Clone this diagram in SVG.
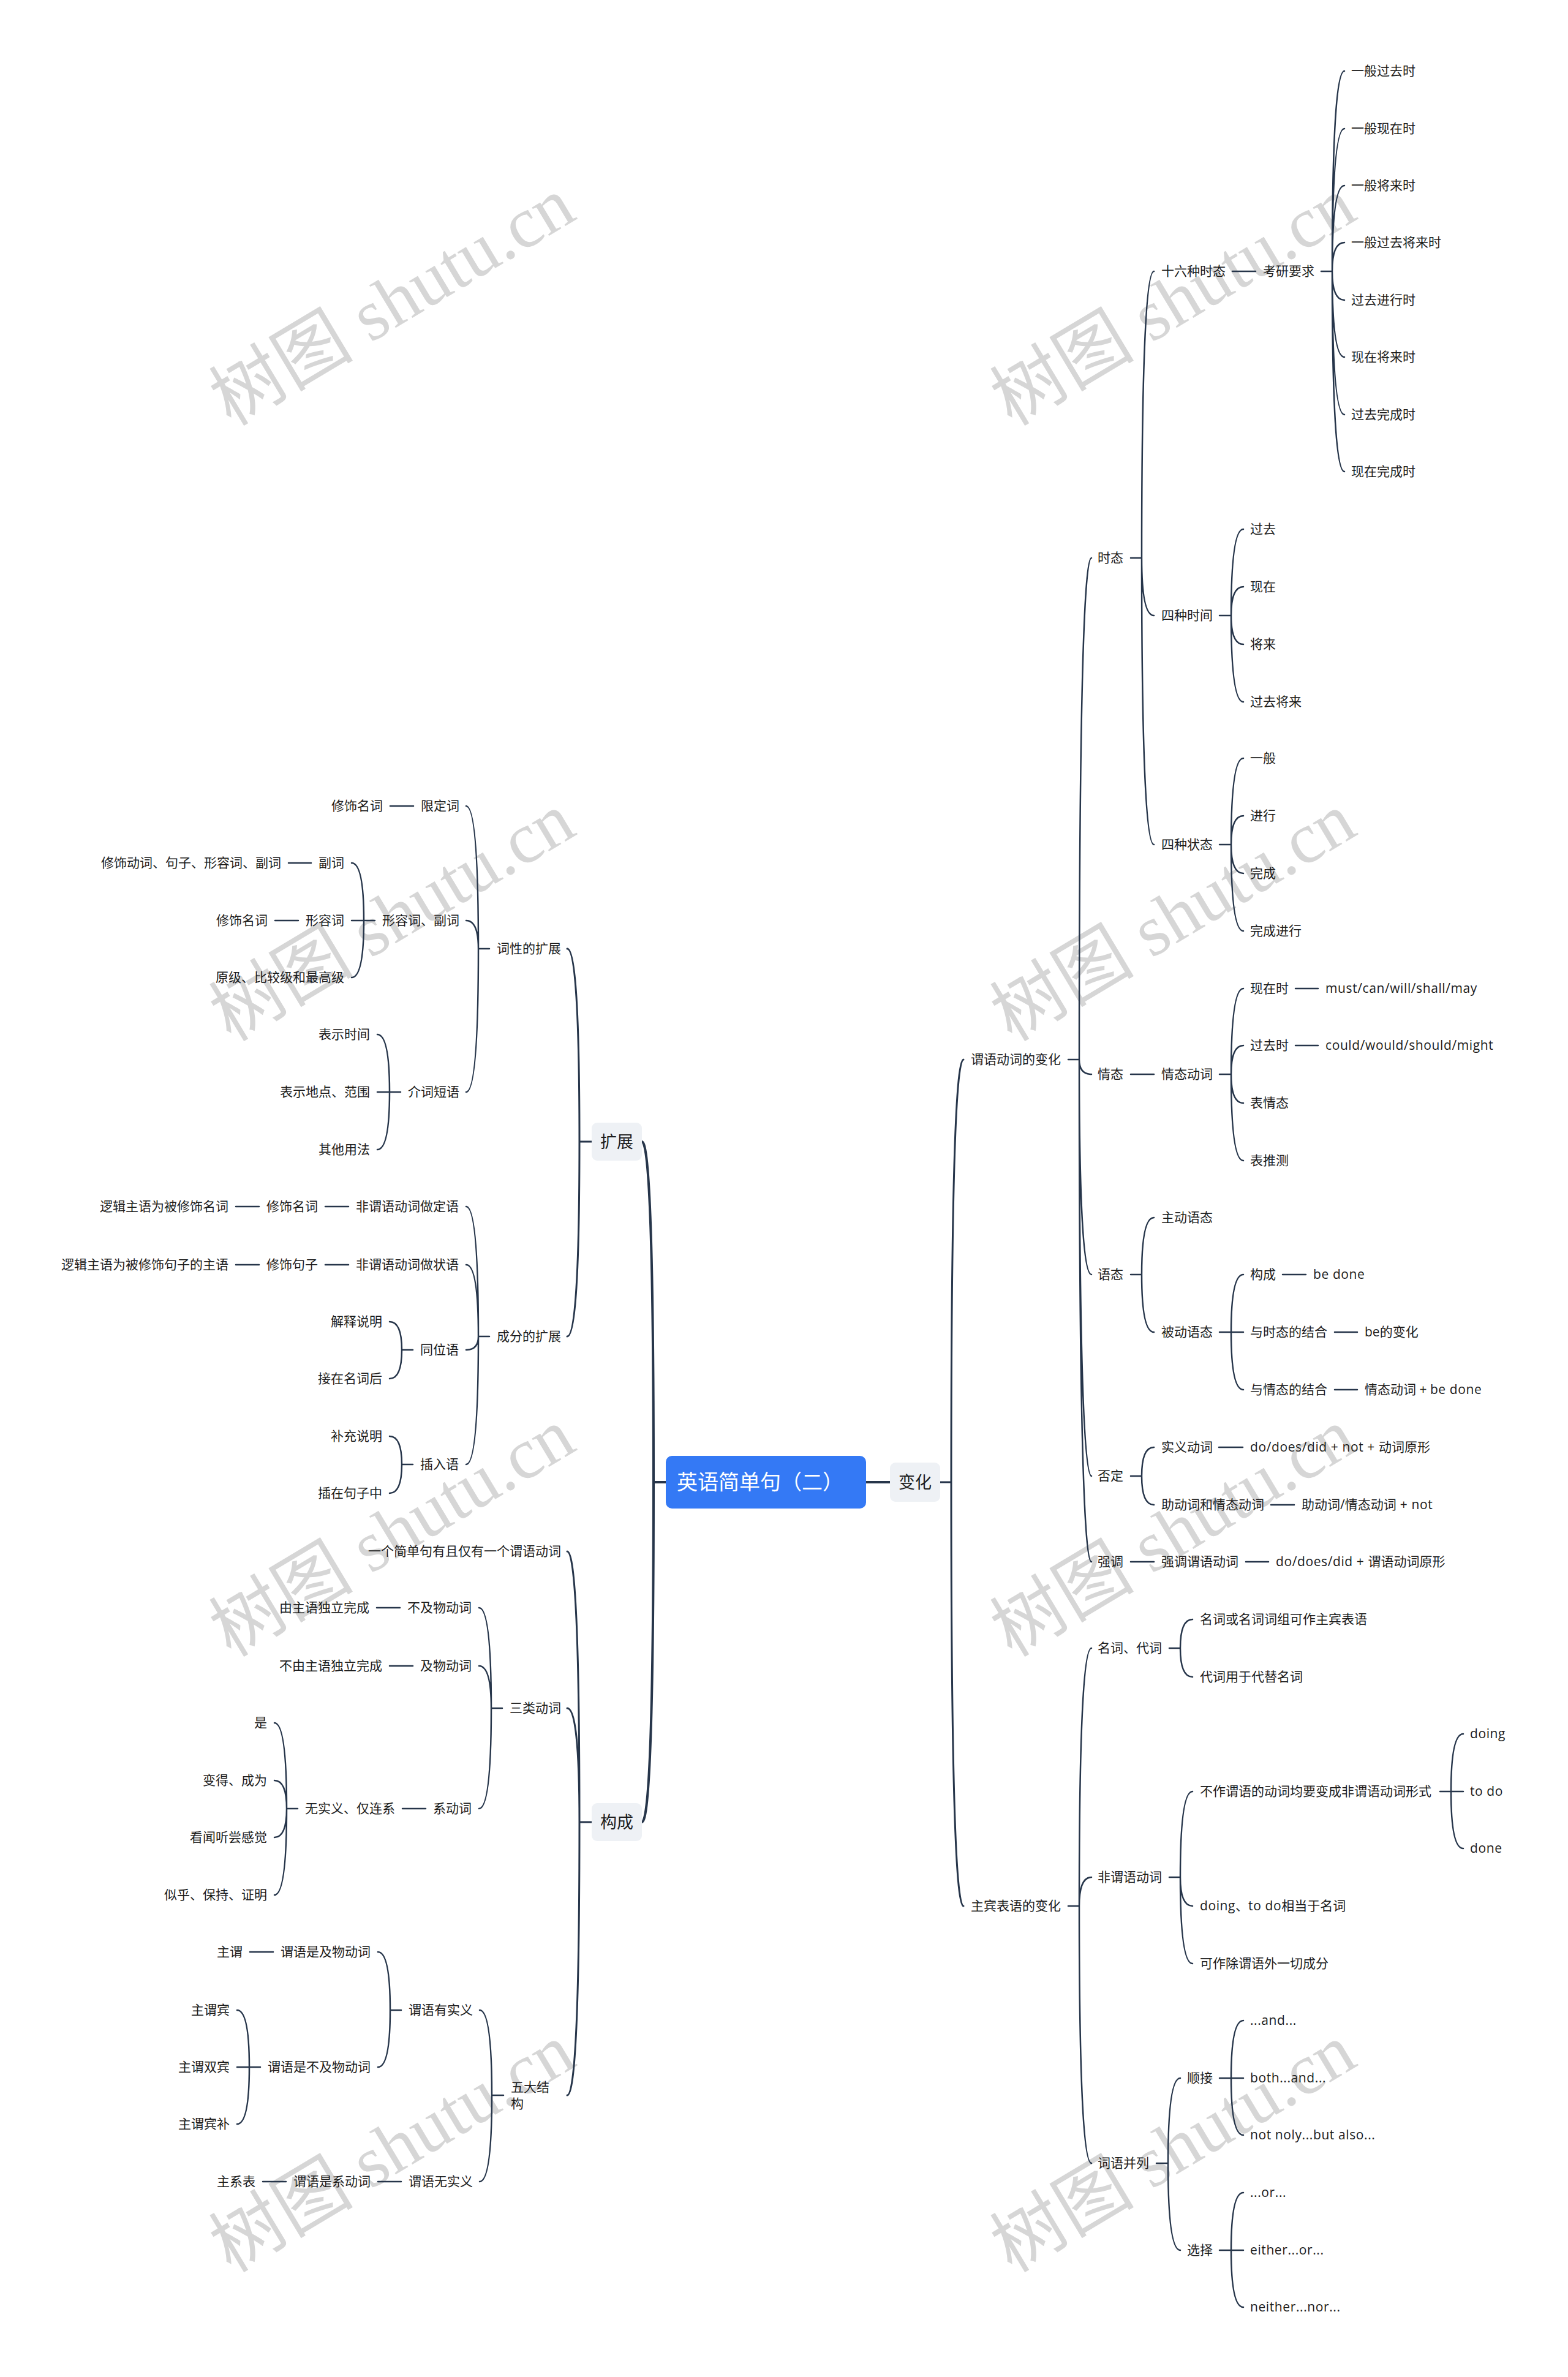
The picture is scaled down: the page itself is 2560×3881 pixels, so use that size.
<svg xmlns="http://www.w3.org/2000/svg" width="2560" height="3881" viewBox="0 0 2560 3881">
<style>
.t{font-family:"Open Sans","Noto Sans CJK SC",sans-serif;font-size:21px;fill:#1c1c1c}
.l{letter-spacing:0.6px}
.e{text-anchor:end}
.b{font-family:"Noto Sans CJK SC",sans-serif;font-size:27px;fill:#1c1c1c;text-anchor:middle}
.r{font-family:"Noto Sans CJK SC",sans-serif;font-size:34px;fill:#ffffff}
.wm{font-family:"Liberation Serif","Noto Sans CJK SC",serif;font-size:118px;fill:#d6d6d6}
.c0{fill:none;stroke:#26354a;stroke-width:4;stroke-linecap:round}
.c1{fill:none;stroke:#26354a;stroke-width:3;stroke-linecap:round}
.c2{fill:none;stroke:#26354a;stroke-width:2.5;stroke-linecap:round}
.box{fill:#eef1f5}
</style>
<rect width="2560" height="3881" fill="#ffffff"/>
<g id="watermarks">
<text class="wm" transform="translate(377,697) rotate(-31)">树图 shutu.cn</text>
<text class="wm" transform="translate(1652,697) rotate(-31)">树图 shutu.cn</text>
<text class="wm" transform="translate(377,1702) rotate(-31)">树图 shutu.cn</text>
<text class="wm" transform="translate(1652,1702) rotate(-31)">树图 shutu.cn</text>
<text class="wm" transform="translate(377,2707) rotate(-31)">树图 shutu.cn</text>
<text class="wm" transform="translate(1652,2707) rotate(-31)">树图 shutu.cn</text>
<text class="wm" transform="translate(377,3712) rotate(-31)">树图 shutu.cn</text>
<text class="wm" transform="translate(1652,3712) rotate(-31)">树图 shutu.cn</text>
</g>
<g id="connectors">
<path class="c0" d="M1087 2420 H1067 M1067 2420 Q1067 1864 1048 1864 M1067 2420 Q1067 2975 1048 2975 M1414 2420 H1453"/>
<path class="c1" d="M1535 2420 H1553 M1553 2420 Q1553 1730 1573 1730 M1553 2420 Q1553 3112 1573 3112"/>
<path class="c1" d="M966 1864 H946 M946 1864 Q946 1549 926 1549 M946 1864 Q946 2182 926 2182"/>
<path class="c1" d="M966 2975 H946 M946 2975 Q946 2533 926 2533 M946 2975 Q946 2789 926 2789 M946 2975 Q946 3421 926 3421"/>
<path class="c2" d="M1744 1730 H1762 M1762 1730 Q1762 911 1782 911 M1762 1730 Q1762 1754 1782 1754 M1762 1730 Q1762 2081 1782 2081 M1762 1730 Q1762 2410 1782 2410 M1762 1730 Q1762 2550 1782 2550"/>
<path class="c2" d="M1846 911 H1864 M1864 911 Q1864 443 1884 443 M1864 911 Q1864 1005 1884 1005 M1864 911 Q1864 1379 1884 1379"/>
<path class="c2" d="M2012 443 H2050"/>
<path class="c2" d="M2157 443 H2175 M2175 443 Q2175 116 2195 116 M2175 443 Q2175 210 2195 210 M2175 443 Q2175 303 2195 303 M2175 443 Q2175 396 2195 396 M2175 443 Q2175 490 2195 490 M2175 443 Q2175 583 2195 583 M2175 443 Q2175 677 2195 677 M2175 443 Q2175 770 2195 770"/>
<path class="c2" d="M1991 1005 H2010 M2010 1005 Q2010 864 2030 864 M2010 1005 Q2010 958 2030 958 M2010 1005 Q2010 1052 2030 1052 M2010 1005 Q2010 1146 2030 1146"/>
<path class="c2" d="M1991 1379 H2010 M2010 1379 Q2010 1238 2030 1238 M2010 1379 Q2010 1332 2030 1332 M2010 1379 Q2010 1426 2030 1426 M2010 1379 Q2010 1520 2030 1520"/>
<path class="c2" d="M1846 1754 H1884"/>
<path class="c2" d="M1991 1754 H2010 M2010 1754 Q2010 1614 2030 1614 M2010 1754 Q2010 1707 2030 1707 M2010 1754 Q2010 1801 2030 1801 M2010 1754 Q2010 1895 2030 1895"/>
<path class="c2" d="M2115 1614 H2152 M2115 1707 H2152"/>
<path class="c2" d="M1846 2081 H1864 M1864 2081 Q1864 1988 1884 1988 M1864 2081 Q1864 2175 1884 2175"/>
<path class="c2" d="M1991 2175 H2010 M2010 2175 Q2010 2081 2030 2081 M2010 2175 Q2010 2175 2030 2175 M2010 2175 Q2010 2269 2030 2269"/>
<path class="c2" d="M2094 2081 H2132 M2179 2175 H2216 M2179 2269 H2216"/>
<path class="c2" d="M1846 2410 H1864 M1864 2410 Q1864 2363 1884 2363 M1864 2410 Q1864 2457 1884 2457"/>
<path class="c2" d="M1990 2363 H2029 M2075 2457 H2113"/>
<path class="c2" d="M1846 2550 H1884 M2034 2550 H2071"/>
<path class="c2" d="M1744 3112 H1762 M1762 3112 Q1762 2691 1782 2691 M1762 3112 Q1762 3065 1782 3065 M1762 3112 Q1762 3532 1782 3532"/>
<path class="c2" d="M1909 2691 H1927 M1927 2691 Q1927 2644 1947 2644 M1927 2691 Q1927 2738 1947 2738"/>
<path class="c2" d="M1909 3065 H1927 M1927 3065 Q1927 2925 1947 2925 M1927 3065 Q1927 3112 1947 3112 M1927 3065 Q1927 3206 1947 3206"/>
<path class="c2" d="M2351 2925 H2369 M2369 2925 Q2369 2831 2389 2831 M2369 2925 Q2369 2925 2389 2925 M2369 2925 Q2369 3018 2389 3018"/>
<path class="c2" d="M1888 3532 H1907 M1907 3532 Q1907 3393 1927 3393 M1907 3532 Q1907 3674 1927 3674"/>
<path class="c2" d="M1991 3393 H2010 M2010 3393 Q2010 3299 2030 3299 M2010 3393 Q2010 3393 2030 3393 M2010 3393 Q2010 3486 2030 3486"/>
<path class="c2" d="M1991 3674 H2010 M2010 3674 Q2010 3580 2030 3580 M2010 3674 Q2010 3674 2030 3674 M2010 3674 Q2010 3767 2030 3767"/>
<path class="c2" d="M799 1549 H781 M781 1549 Q781 1316 761 1316 M781 1549 Q781 1503 761 1503 M781 1549 Q781 1783 761 1783"/>
<path class="c2" d="M675 1316 H637"/>
<path class="c2" d="M612 1503 H594 M594 1503 Q594 1409 574 1409 M594 1503 Q594 1503 574 1503 M594 1503 Q594 1596 574 1596"/>
<path class="c2" d="M508 1409 H471 M487 1503 H449"/>
<path class="c2" d="M654 1783 H636 M636 1783 Q636 1689 616 1689 M636 1783 Q636 1783 616 1783 M636 1783 Q636 1877 616 1877"/>
<path class="c2" d="M799 2182 H781 M781 2182 Q781 1970 761 1970 M781 2182 Q781 2065 761 2065 M781 2182 Q781 2204 761 2204 M781 2182 Q781 2391 761 2391"/>
<path class="c2" d="M569 1970 H531 M423 1970 H385 M569 2065 H531 M423 2065 H385"/>
<path class="c2" d="M674 2204 H656 M656 2204 Q656 2158 636 2158 M656 2204 Q656 2251 636 2251"/>
<path class="c2" d="M674 2391 H656 M656 2391 Q656 2345 636 2345 M656 2391 Q656 2438 636 2438"/>
<path class="c2" d="M820 2789 H802 M802 2789 Q802 2625 782 2625 M802 2789 Q802 2720 782 2720 M802 2789 Q802 2953 782 2953"/>
<path class="c2" d="M653 2625 H615 M674 2720 H636 M695 2953 H657"/>
<path class="c2" d="M486 2953 H468 M468 2953 Q468 2813 448 2813 M468 2953 Q468 2907 448 2907 M468 2953 Q468 3000 448 3000 M468 2953 Q468 3094 448 3094"/>
<path class="c2" d="M822 3421 H803 M803 3421 Q803 3282 783 3282 M803 3421 Q803 3562 783 3562"/>
<path class="c2" d="M655 3282 H637 M637 3282 Q637 3187 617 3187 M637 3282 Q637 3375 617 3375"/>
<path class="c2" d="M446 3187 H408"/>
<path class="c2" d="M425 3375 H407 M407 3375 Q407 3282 387 3282 M407 3375 Q407 3375 387 3375 M407 3375 Q407 3468 387 3468"/>
<path class="c2" d="M655 3562 H617 M467 3562 H429"/>
</g>
<g id="root"><rect x="1087" y="2377" width="327" height="86" rx="10" fill="#3479f5"/><text class="r" x="1105" y="2432">英语简单句（二）</text></g>
<g id="n-bianhua"><rect class="box" x="1453" y="2388" width="82" height="64" rx="9"/><text class="b" x="1494" y="2430">变化</text></g>
<g id="n-kuozhan"><rect class="box" x="966" y="1833" width="82" height="62" rx="9"/><text class="b" x="1007" y="1874">扩展</text></g>
<g id="n-goucheng"><rect class="box" x="966" y="2944" width="82" height="62" rx="9"/><text class="b" x="1007" y="2985">构成</text></g>
<g id="n-r1"><text class="t" x="1585" y="1737">谓语动词的变化</text></g>
<g id="n-r2"><text class="t" x="1585" y="3119">主宾表语的变化</text></g>
<g id="n-shitai"><text class="t" x="1792" y="918">时态</text></g>
<g id="n-16"><text class="t" x="1896" y="450">十六种时态</text></g>
<g id="n-kaoyan"><text class="t" x="2062" y="450">考研要求</text></g>
<g id="n-t1"><text class="t" x="2206" y="123">一般过去时</text></g>
<g id="n-t2"><text class="t" x="2206" y="217">一般现在时</text></g>
<g id="n-t3"><text class="t" x="2206" y="310">一般将来时</text></g>
<g id="n-t4"><text class="t" x="2206" y="403">一般过去将来时</text></g>
<g id="n-t5"><text class="t" x="2206" y="497">过去进行时</text></g>
<g id="n-t6"><text class="t" x="2206" y="590">现在将来时</text></g>
<g id="n-t7"><text class="t" x="2206" y="684">过去完成时</text></g>
<g id="n-t8"><text class="t" x="2206" y="777">现在完成时</text></g>
<g id="n-4time"><text class="t" x="1896" y="1012">四种时间</text></g>
<g id="n-g1"><text class="t" x="2041" y="871">过去</text></g>
<g id="n-g2"><text class="t" x="2041" y="965">现在</text></g>
<g id="n-g3"><text class="t" x="2041" y="1059">将来</text></g>
<g id="n-g4"><text class="t" x="2041" y="1153">过去将来</text></g>
<g id="n-4state"><text class="t" x="1896" y="1386">四种状态</text></g>
<g id="n-s1"><text class="t" x="2041" y="1245">一般</text></g>
<g id="n-s2"><text class="t" x="2041" y="1339">进行</text></g>
<g id="n-s3"><text class="t" x="2041" y="1433">完成</text></g>
<g id="n-s4"><text class="t" x="2041" y="1527">完成进行</text></g>
<g id="n-qingtai"><text class="t" x="1792" y="1761">情态</text></g>
<g id="n-qtdc"><text class="t" x="1896" y="1761">情态动词</text></g>
<g id="n-xzs"><text class="t" x="2041" y="1621">现在时</text></g>
<g id="n-must"><text class="t l" x="2164" y="1621">must/can/will/shall/may</text></g>
<g id="n-gqs"><text class="t" x="2041" y="1714">过去时</text></g>
<g id="n-could"><text class="t l" x="2164" y="1714">could/would/should/might</text></g>
<g id="n-bqt"><text class="t" x="2041" y="1808">表情态</text></g>
<g id="n-btc"><text class="t" x="2041" y="1902">表推测</text></g>
<g id="n-yutai"><text class="t" x="1792" y="2088">语态</text></g>
<g id="n-zdyt"><text class="t" x="1896" y="1995">主动语态</text></g>
<g id="n-bdyt"><text class="t" x="1896" y="2182">被动语态</text></g>
<g id="n-gc2"><text class="t" x="2041" y="2088">构成</text></g>
<g id="n-bedone"><text class="t l" x="2144" y="2088">be done</text></g>
<g id="n-ystt"><text class="t" x="2041" y="2182">与时态的结合</text></g>
<g id="n-bebh"><text class="t" x="2228" y="2182">be的变化</text></g>
<g id="n-yqtt"><text class="t" x="2041" y="2276">与情态的结合</text></g>
<g id="n-qtbe"><text class="t" x="2228" y="2276">情态动词 + <tspan class="l">be done</tspan></text></g>
<g id="n-fouding"><text class="t" x="1792" y="2417">否定</text></g>
<g id="n-syd"><text class="t" x="1896" y="2370">实义动词</text></g>
<g id="n-dnot"><text class="t" x="2041" y="2370"><tspan class="l">do/does/did + not + </tspan>动词原形</text></g>
<g id="n-zdc"><text class="t" x="1896" y="2464">助动词和情态动词</text></g>
<g id="n-zdnot"><text class="t" x="2125" y="2464">助动词/情态动词<tspan class="l"> + not</tspan></text></g>
<g id="n-qiangdiao"><text class="t" x="1792" y="2557">强调</text></g>
<g id="n-qdwy"><text class="t" x="1896" y="2557">强调谓语动词</text></g>
<g id="n-dodid"><text class="t" x="2083" y="2557"><tspan class="l">do/does/did + </tspan>谓语动词原形</text></g>
<g id="n-mcdc"><text class="t" x="1792" y="2698">名词、代词</text></g>
<g id="n-mc1"><text class="t" x="1959" y="2651">名词或名词词组可作主宾表语</text></g>
<g id="n-mc2"><text class="t" x="1959" y="2745">代词用于代替名词</text></g>
<g id="n-fwy"><text class="t" x="1792" y="3072">非谓语动词</text></g>
<g id="n-fw1"><text class="t" x="1959" y="2932">不作谓语的动词均要变成非谓语动词形式</text></g>
<g id="n-doing"><text class="t l" x="2400" y="2838">doing</text></g>
<g id="n-todo"><text class="t l" x="2400" y="2932">to do</text></g>
<g id="n-done"><text class="t l" x="2400" y="3025">done</text></g>
<g id="n-fw2"><text class="t" x="1959" y="3119"><tspan class="l">doing</tspan>、<tspan class="l">to do</tspan>相当于名词</text></g>
<g id="n-fw3"><text class="t" x="1959" y="3213">可作除谓语外一切成分</text></g>
<g id="n-cybl"><text class="t" x="1792" y="3539">词语并列</text></g>
<g id="n-sj"><text class="t" x="1938" y="3400">顺接</text></g>
<g id="n-and"><text class="t l" x="2041" y="3306">...and...</text></g>
<g id="n-both"><text class="t l" x="2041" y="3400">both...and...</text></g>
<g id="n-notonly"><text class="t l" x="2041" y="3493">not noly...but also...</text></g>
<g id="n-xz"><text class="t" x="1938" y="3681">选择</text></g>
<g id="n-or"><text class="t l" x="2041" y="3587">...or...</text></g>
<g id="n-either"><text class="t l" x="2041" y="3681">either...or...</text></g>
<g id="n-neither"><text class="t l" x="2041" y="3774">neither...nor...</text></g>
<g id="n-cxkz"><text class="t e" x="916" y="1556">词性的扩展</text></g>
<g id="n-xdc"><text class="t e" x="750" y="1323">限定词</text></g>
<g id="n-xsmc1"><text class="t e" x="625" y="1323">修饰名词</text></g>
<g id="n-xrcfc"><text class="t e" x="750" y="1510">形容词、副词</text></g>
<g id="n-fc"><text class="t e" x="562" y="1416">副词</text></g>
<g id="n-xsdc"><text class="t e" x="459" y="1416">修饰动词、句子、形容词、副词</text></g>
<g id="n-xrc"><text class="t e" x="562" y="1510">形容词</text></g>
<g id="n-xsmc2"><text class="t e" x="437" y="1510">修饰名词</text></g>
<g id="n-yj"><text class="t e" x="562" y="1603">原级、比较级和最高级</text></g>
<g id="n-jcdy"><text class="t e" x="750" y="1790">介词短语</text></g>
<g id="n-bssj"><text class="t e" x="604" y="1696">表示时间</text></g>
<g id="n-bsdd"><text class="t e" x="604" y="1790">表示地点、范围</text></g>
<g id="n-qtyf"><text class="t e" x="604" y="1884">其他用法</text></g>
<g id="n-cfkz"><text class="t e" x="916" y="2189">成分的扩展</text></g>
<g id="n-fwdy"><text class="t e" x="749" y="1977">非谓语动词做定语</text></g>
<g id="n-xsmc3"><text class="t e" x="519" y="1977">修饰名词</text></g>
<g id="n-ljzy1"><text class="t e" x="373" y="1977">逻辑主语为被修饰名词</text></g>
<g id="n-fwzy"><text class="t e" x="749" y="2072">非谓语动词做状语</text></g>
<g id="n-xsjz"><text class="t e" x="519" y="2072">修饰句子</text></g>
<g id="n-ljzy2"><text class="t e" x="373" y="2072">逻辑主语为被修饰句子的主语</text></g>
<g id="n-twy"><text class="t e" x="749" y="2211">同位语</text></g>
<g id="n-jssm"><text class="t e" x="624" y="2165">解释说明</text></g>
<g id="n-jzmc"><text class="t e" x="624" y="2258">接在名词后</text></g>
<g id="n-cry"><text class="t e" x="749" y="2398">插入语</text></g>
<g id="n-bcsm"><text class="t e" x="624" y="2352">补充说明</text></g>
<g id="n-czjz"><text class="t e" x="624" y="2445">插在句子中</text></g>
<g id="n-yjjd"><text class="t e" x="916" y="2540">一个简单句有且仅有一个谓语动词</text></g>
<g id="n-sldc"><text class="t e" x="916" y="2796">三类动词</text></g>
<g id="n-bjw"><text class="t e" x="770" y="2632">不及物动词</text></g>
<g id="n-yzy"><text class="t e" x="603" y="2632">由主语独立完成</text></g>
<g id="n-jw"><text class="t e" x="770" y="2727">及物动词</text></g>
<g id="n-byzy"><text class="t e" x="624" y="2727">不由主语独立完成</text></g>
<g id="n-xdc2"><text class="t e" x="770" y="2960">系动词</text></g>
<g id="n-wsy"><text class="t e" x="645" y="2960">无实义、仅连系</text></g>
<g id="n-shi"><text class="t e" x="436" y="2820">是</text></g>
<g id="n-bdcw"><text class="t e" x="436" y="2914">变得、成为</text></g>
<g id="n-kwt"><text class="t e" x="436" y="3007">看闻听尝感觉</text></g>
<g id="n-sh"><text class="t e" x="436" y="3101">似乎、保持、证明</text></g>
<g id="n-wdjg"><text class="t" x="834" y="3415">五大结</text><text class="t" x="834" y="3442">构</text></g>
<g id="n-wyysy"><text class="t e" x="772" y="3289">谓语有实义</text></g>
<g id="n-wyjw"><text class="t e" x="605" y="3194">谓语是及物动词</text></g>
<g id="n-zw"><text class="t e" x="396" y="3194">主谓</text></g>
<g id="n-wybjw"><text class="t e" x="605" y="3382">谓语是不及物动词</text></g>
<g id="n-zwb"><text class="t e" x="375" y="3289">主谓宾</text></g>
<g id="n-zwsb"><text class="t e" x="375" y="3382">主谓双宾</text></g>
<g id="n-zwbb"><text class="t e" x="375" y="3475">主谓宾补</text></g>
<g id="n-wywsy"><text class="t e" x="772" y="3569">谓语无实义</text></g>
<g id="n-wyxd"><text class="t e" x="605" y="3569">谓语是系动词</text></g>
<g id="n-zxb"><text class="t e" x="417" y="3569">主系表</text></g>
</svg>
